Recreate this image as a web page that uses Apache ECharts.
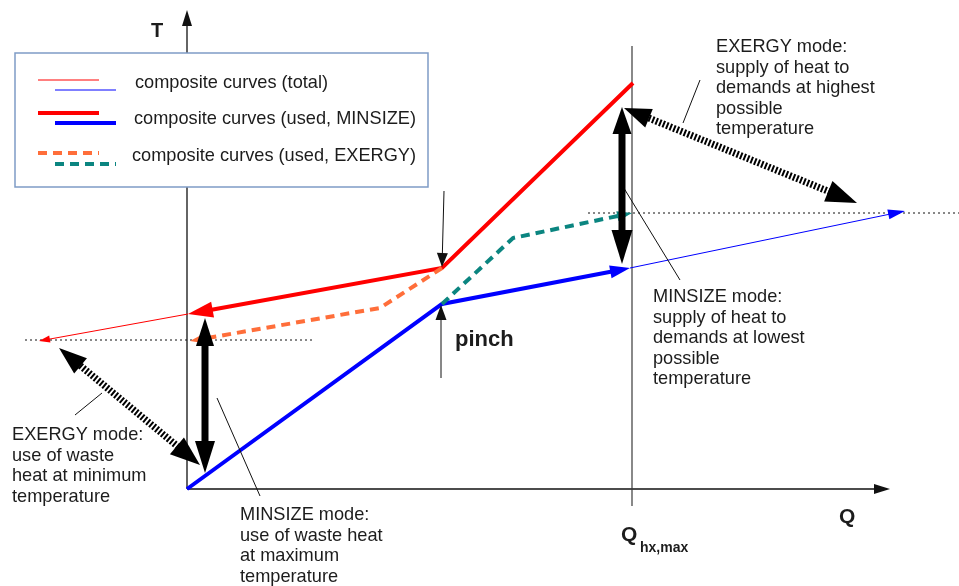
<!DOCTYPE html>
<html>
<head>
<meta charset="utf-8">
<title>Composite curves: MINSIZE and EXERGY modes</title>
<script src="https://cdn.jsdelivr.net/npm/echarts@6/dist/echarts.min.js"></script>
<style>
  html, body { margin: 0; padding: 0; background: #fff; }
  #chart { width: 959px; height: 586px; }
</style>
</head>
<body>
<div id="chart"></div>
<script>
// Heat flow Q (horizontal) and temperature T (vertical), schematic units,
// origin where the two axes cross.
const qAxis = [[0, 0], [703, 0]];
const tAxis = [[0, 0], [0, 479]];
const qHxMax = [[445, -17], [445, 443]];

// composite curves (total) – the parts beyond the used range
const hotTotalExt = [[1, 175], [-148, 148]];
const coldTotalExt = [[443, 221], [718, 278]];

// composite curves (used, MINSIZE)
const hotUsedMinsize = [[446, 406], [255, 221], [1, 175]];
const coldUsedMinsize = [[0, 0], [255, 185], [443, 221]];

// composite curves (used, EXERGY)
const hotUsedExergy = [[255, 221], [193, 181], [3, 148]];
const coldUsedExergy = [[255, 185], [326, 251], [445, 276]];

// reference temperature levels
const levelHigh = [[401, 276], [772, 276]];
const levelLow = [[-162, 149], [126, 149]];

// temperature spans of the two modes
const gapWasteMinsize = [[18, 171], [18, 16]];
const gapSupplyMinsize = [[435, 382], [435, 225]];
const spanWasteExergy = [[-128, 141], [13, 24]];
const spanSupplyExergy = [[437, 381], [670, 286]];

// pointers and leader lines
const pointerKink = [[257, 298], [255, 222]];
const pointerPinch = [[254, 111], [254, 184]];
const leaderExergySupply = [[513, 409], [496, 366]];
const leaderMinsizeSupply = [[435, 304], [493, 209]];
const leaderExergyWaste = [[-85, 96], [-112, 74]];
const leaderMinsizeWaste = [[30, 91], [73, -7]];

// axis extents (drawing units)
const qRange = [-187, 772];
const tRange = [-97, 489];

const RED = '#ff0000';
const BLUE = '#0000ff';
const ORANGE = '#ff6e3a';
const TEAL = '#0b8580';
const INK = '#111111';
const TEXT = '#1c1c1c';
const FONT = '"Liberation Sans", Arial, sans-serif';

// Triangle head with its tip at `tip`, pointing away from `from`.
function head(tip, from, len, wid) {
  const dx = tip[0] - from[0], dy = tip[1] - from[1];
  const d = Math.hypot(dx, dy) || 1;
  const ux = dx / d, uy = dy / d;
  const bx = tip[0] - ux * len, by = tip[1] - uy * len;
  const nx = -uy * wid / 2, ny = ux * wid / 2;
  return {
    poly: [tip, [bx + nx, by + ny], [bx - nx, by - ny]],
    cut: [tip[0] - ux * len * 0.85, tip[1] - uy * len * 0.85]
  };
}

// A polyline through the given points, optionally with arrowheads at either end.
function pathSeries(name, points, st) {
  return {
    type: 'custom',
    name: name,
    data: points,
    silent: true,
    z: st.z || 2,
    renderItem: function (params, api) {
      if (params.dataIndexInside !== 0) return null;
      const n = params.dataInsideLength;
      const px = [];
      for (let i = 0; i < n; i++) {
        px.push(api.coord([api.value(0, i), api.value(1, i)]));
      }
      const line = px.map(function (p) { return p.slice(); });
      const children = [];
      if (st.end) {
        const h = head(px[n - 1], px[n - 2], st.end[0], st.end[1]);
        line[n - 1] = h.cut;
        children.push({ type: 'polygon', shape: { points: h.poly }, style: { fill: st.headColor || st.color }, z2: 2 });
      }
      if (st.start) {
        const h = head(px[0], px[1], st.start[0], st.start[1]);
        line[0] = h.cut;
        children.push({ type: 'polygon', shape: { points: h.poly }, style: { fill: st.headColor || st.color }, z2: 2 });
      }
      children.unshift({
        type: 'polyline',
        shape: { points: line },
        style: {
          stroke: st.color,
          lineWidth: st.width,
          lineDash: st.dash || null,
          lineCap: 'butt',
          lineJoin: 'miter',
          fill: null
        },
        z2: 1
      });
      return { type: 'group', children: children };
    }
  };
}

function textBlock(x, yFirst, lines, opts) {
  const lh = (opts && opts.lineHeight) || 20.5;
  return {
    type: 'text',
    x: x,
    y: yFirst - lh / 2,
    z: 100,
    style: {
      text: lines.join('\n'),
      font: ((opts && opts.font) || '18px') + ' ' + FONT,
      fill: TEXT,
      lineHeight: lh,
      verticalAlign: 'top',
      align: 'left'
    }
  };
}

function label(x, y, text, font) {
  return {
    type: 'text', x: x, y: y, z: 100,
    style: { text: text, font: font + ' ' + FONT, fill: TEXT, verticalAlign: 'middle', align: 'left' }
  };
}

function sample(x1, x2, y, color, width, dash) {
  return {
    type: 'line', z: 101,
    shape: { x1: x1, y1: y, x2: x2, y2: y },
    style: { stroke: color, lineWidth: width, lineDash: dash || null, lineCap: 'butt' }
  };
}

const chart = echarts.init(document.getElementById('chart'), null, { renderer: 'canvas' });

chart.setOption({
  animation: false,
  backgroundColor: '#ffffff',
  grid: { left: 0, right: 0, top: 0, bottom: 0 },
  xAxis: { type: 'value', min: qRange[0], max: qRange[1], show: false },
  yAxis: { type: 'value', min: tRange[0], max: tRange[1], show: false },
  series: [
    pathSeries('Q axis', qAxis, { color: INK, width: 1.3, end: [16, 10] }),
    pathSeries('T axis', tAxis, { color: INK, width: 1.3, end: [16, 10] }),
    pathSeries('Qhx,max', qHxMax, { color: '#3a3a3a', width: 1.2 }),

    pathSeries('high level', levelHigh, { color: INK, width: 1, dash: [2, 3] }),
    pathSeries('low level', levelLow, { color: INK, width: 1, dash: [2, 3] }),

    pathSeries('hot total', hotTotalExt, { color: RED, width: 1, end: [11, 7] }),
    pathSeries('cold total', coldTotalExt, { color: BLUE, width: 1, end: [17, 10] }),

    pathSeries('hot used MINSIZE', hotUsedMinsize, { color: RED, width: 4, end: [25, 16] }),
    pathSeries('cold used MINSIZE', coldUsedMinsize, { color: BLUE, width: 4, end: [20, 13] }),

    pathSeries('hot used EXERGY', hotUsedExergy, { color: ORANGE, width: 4, dash: [9, 6], end: [12, 8] }),
    pathSeries('cold used EXERGY', coldUsedExergy, { color: TEAL, width: 4, dash: [9, 6], end: [15, 10] }),

    pathSeries('MINSIZE waste span', gapWasteMinsize, { color: '#000', width: 7, start: [28, 18], end: [32, 20], z: 3 }),
    pathSeries('MINSIZE supply span', gapSupplyMinsize, { color: '#000', width: 7, start: [27, 19], end: [34, 21], z: 3 }),
    pathSeries('EXERGY waste span', spanWasteExergy, { color: '#000', width: 7, dash: [2, 1.8], start: [28, 20], end: [30, 22], z: 3 }),
    pathSeries('EXERGY supply span', spanSupplyExergy, { color: '#000', width: 7, dash: [2, 1.8], start: [27, 20], end: [31, 22], z: 3 }),

    pathSeries('kink pointer', pointerKink, { color: INK, width: 1, end: [14, 11], z: 3 }),
    pathSeries('pinch pointer', pointerPinch, { color: INK, width: 1, end: [15, 11], z: 3 }),
    pathSeries('leader 1', leaderExergySupply, { color: INK, width: 1 }),
    pathSeries('leader 2', leaderMinsizeSupply, { color: INK, width: 1 }),
    pathSeries('leader 3', leaderExergyWaste, { color: INK, width: 1 }),
    pathSeries('leader 4', leaderMinsizeWaste, { color: INK, width: 1 })
  ],
  graphic: [
    // legend box
    {
      type: 'rect', z: 100,
      shape: { x: 15, y: 53, width: 413, height: 134 },
      style: { fill: '#ffffff', stroke: '#7f9cc6', lineWidth: 1.5 }
    },
    sample(38, 99, 80, RED, 1),
    sample(55, 116, 90, BLUE, 1),
    sample(38, 99, 113, RED, 4),
    sample(55, 116, 123, BLUE, 4),
    sample(38, 99, 153, ORANGE, 4, [9, 6]),
    sample(55, 116, 164, TEAL, 4, [9, 6]),
    label(135, 83, 'composite curves (total)', '18.2px'),
    label(134, 119, 'composite curves (used, MINSIZE)', '18.2px'),
    label(132, 156, 'composite curves (used, EXERGY)', '18.2px'),

    // axis titles
    label(151, 31, 'T', 'bold 20px'),
    label(839, 517, 'Q', 'bold 21px'),
    label(621, 535, 'Q', 'bold 21px'),
    label(640, 548, 'hx,max', 'bold 14px'),
    label(455, 340, 'pinch', 'bold 22px'),

    // annotations
    textBlock(716, 47, ['EXERGY mode:', 'supply of heat to', 'demands at highest', 'possible', 'temperature'], { font: '18.2px' }),
    textBlock(653, 297, ['MINSIZE mode:', 'supply of heat to', 'demands at lowest', 'possible', 'temperature'], { font: '18.2px' }),
    textBlock(12, 435, ['EXERGY mode:', 'use of waste', 'heat at minimum', 'temperature'], { font: '18.2px' }),
    textBlock(240, 515, ['MINSIZE mode:', 'use of waste heat', 'at maximum', 'temperature'], { font: '18.2px' })
  ]
});
</script>
</body>
</html>
